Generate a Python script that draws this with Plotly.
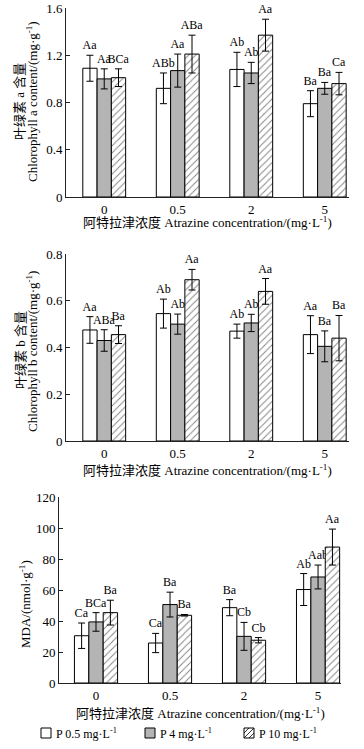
import plotly.graph_objects as go

# ---------------- data ----------------
categories = ["0", "0.5", "2", "5"]
series_names = ["P 0.5 mg·L<sup>-1</sup>", "P 4 mg·L<sup>-1</sup>", "P 10 mg·L<sup>-1</sup>"]

chla_p05 = [1.09, 0.92, 1.08, 0.79]
chla_p05_err = [0.11, 0.13, 0.145, 0.11]
chla_p4 = [1.00, 1.07, 1.05, 0.92]
chla_p4_err = [0.085, 0.14, 0.09, 0.05]
chla_p10 = [1.01, 1.21, 1.37, 0.96]
chla_p10_err = [0.075, 0.16, 0.135, 0.095]
chla_p05_lab = ["Aa", "ABb", "Ab", "Ba"]
chla_p4_lab = ["Aa", "Aa", "Ab", "Ba"]
chla_p10_lab = ["BCa", "ABa", "Aa", "Ca"]

chlb_p05 = [0.475, 0.545, 0.47, 0.455]
chlb_p05_err = [0.057, 0.062, 0.03, 0.081]
chlb_p4 = [0.43, 0.50, 0.505, 0.405]
chlb_p4_err = [0.046, 0.043, 0.037, 0.066]
chlb_p10 = [0.455, 0.69, 0.64, 0.44]
chlb_p10_err = [0.038, 0.044, 0.055, 0.097]
chlb_p05_lab = ["Aa", "Ab", "Ab", "Aa"]
chlb_p4_lab = ["ABa", "Ab", "Ab", "Ba"]
chlb_p10_lab = ["Ba", "Aa", "Aa", "Ba"]

mda_p05 = [30.5, 25.8, 48.6, 60.3]
mda_p05_err = [8.2, 6.2, 5.2, 10.3]
mda_p4 = [39.4, 50.6, 30.1, 68.4]
mda_p4_err = [6.0, 8.0, 9.0, 7.7]
mda_p10 = [45.4, 43.7, 27.6, 87.7]
mda_p10_err = [8.0, 0.5, 1.7, 11.6]
mda_p05_lab = ["Ca", "Ca", "Ba", "Ab"]
mda_p4_lab = ["BCa", "Ba", "Cb", "Aab"]
mda_p10_lab = ["Ba", "Ba", "Cb", "Aa"]

chla_ticks = [0, 0.4, 0.8, 1.2, 1.6]
chla_ticktext = ["0", "0.4", "0.8", "1.2", "1.6"]
chlb_ticks = [0, 0.2, 0.4, 0.6, 0.8]
chlb_ticktext = ["0", "0.2", "0.4", "0.6", "0.8"]
mda_ticks = [0, 20, 40, 60, 80, 100, 120]
mda_ticktext = ["0", "20", "40", "60", "80", "100", "120"]

# ---------------- style ----------------
W, H = 364, 749
FONT = "Liberation Serif, Times New Roman, Noto Sans CJK SC, serif"
GRAY = "#b4b4b4"
AX = "#222222"
fills = [
    dict(color="white"),
    dict(color=GRAY),
    dict(color="white", pattern=dict(shape="/", fgcolor="black", bgcolor="white", size=5, solidity=0.18)),
]

panels = [
    dict(vals=[chla_p05, chla_p4, chla_p10], errs=[chla_p05_err, chla_p4_err, chla_p10_err],
         labs=[chla_p05_lab, chla_p4_lab, chla_p10_lab], ticks=chla_ticks, ticktext=chla_ticktext,
         yr=[0, 1.6], px=(66, 349), py=(8, 197), xr=[-0.52, 3.33]),
    dict(vals=[chlb_p05, chlb_p4, chlb_p10], errs=[chlb_p05_err, chlb_p4_err, chlb_p10_err],
         labs=[chlb_p05_lab, chlb_p4_lab, chlb_p10_lab], ticks=chlb_ticks, ticktext=chlb_ticktext,
         yr=[0, 0.8], px=(66, 349), py=(254, 441), xr=[-0.52, 3.33]),
    dict(vals=[mda_p05, mda_p4, mda_p10], errs=[mda_p05_err, mda_p4_err, mda_p10_err],
         labs=[mda_p05_lab, mda_p4_lab, mda_p10_lab], ticks=mda_ticks, ticktext=mda_ticktext,
         yr=[0, 120], px=(59, 341), py=(497, 683), xr=[-0.50, 3.31]),
]

fig = go.Figure()
layout = dict()
for p_i, p in enumerate(panels):
    sfx = "" if p_i == 0 else str(p_i + 1)
    xa, ya = "x" + sfx, "y" + sfx
    for s_i in range(3):
        fig.add_trace(go.Bar(
            x=categories, y=p["vals"][s_i], xaxis=xa, yaxis=ya,
            name=series_names[s_i], showlegend=False,
            offsetgroup=str(s_i),
            marker=dict(**fills[s_i], line=dict(color="black", width=1)),
            error_y=dict(type="data", array=p["errs"][s_i], color="black", thickness=1, width=3.5),
            hoverinfo="skip",
        ))
        tops = [v + e for v, e in zip(p["vals"][s_i], p["errs"][s_i])]
        fig.add_trace(go.Bar(
            x=categories, y=tops, xaxis=xa, yaxis=ya, showlegend=False,
            offsetgroup=str(s_i), marker=dict(color="rgba(0,0,0,0)", line=dict(width=0)),
            text=p["labs"][s_i], textposition="outside", constraintext="none",
            textfont=dict(family=FONT, size=12, color="black"), cliponaxis=False,
            hoverinfo="skip",
        ))
    x0, x1 = p["px"]
    y0, y1 = p["py"]
    layout["xaxis" + sfx] = dict(
        domain=[x0 / W, x1 / W], anchor=ya, type="category", range=p["xr"],
        showline=True, linecolor=AX, linewidth=1, ticks="", showgrid=False, zeroline=False,
        tickfont=dict(family=FONT, size=13, color="black"), automargin=False,
    )
    layout["yaxis" + sfx] = dict(
        domain=[1 - y1 / H, 1 - y0 / H], anchor=xa, range=p["yr"],
        tickvals=p["ticks"], ticktext=p["ticktext"],
        showline=True, linecolor=AX, linewidth=1, ticks="inside", ticklen=4, tickwidth=1,
        tickcolor=AX, showgrid=False, zeroline=False, automargin=False,
        tickfont=dict(family=FONT, size=13, color="black"),
    )

ann = []
shapes = []
xtitle = "阿特拉津浓度 Atrazine concentration/(mg·L<sup>-1</sup>)"
for cx, cy in [(207, 222), (207, 470), (200, 713)]:
    ann.append(dict(text=xtitle, x=cx / W, y=1 - cy / H, xref="paper", yref="paper",
                    showarrow=False, xanchor="center", yanchor="middle",
                    font=dict(family=FONT, size=13, color="black")))
ytitles = [
    ("叶绿素 a 含量", 20, 102),
    ("Chlorophyll a content/(mg·g<sup>-1</sup>)", 32, 102),
    ("叶绿素 b 含量", 20, 350),
    ("Chlorophyll b content/(mg·g<sup>-1</sup>)", 32, 352),
    ("MDA/(nmol·g<sup>-1</sup>)", 25, 604),
]
for t, cx, cy in ytitles:
    ann.append(dict(text=t, x=cx / W, y=1 - cy / H, xref="paper", yref="paper",
                    showarrow=False, xanchor="center", yanchor="middle", textangle=-90,
                    font=dict(family=FONT, size=13, color="black")))

# manual legend (symbol squares + labels)
leg_y = 733
leg_x = [41, 145, 244]
sq = 10
for s_i, lx in enumerate(leg_x):
    x0p, x1p = lx / W, (lx + sq) / W
    y0p, y1p = 1 - (leg_y + sq / 2) / H, 1 - (leg_y - sq / 2) / H
    fillc = GRAY if s_i == 1 else "white"
    shapes.append(dict(type="rect", xref="paper", yref="paper", x0=x0p, x1=x1p, y0=y0p, y1=y1p,
                       fillcolor=fillc, line=dict(color="black", width=1)))
    ann.append(dict(text=series_names[s_i], x=(lx + sq + 3) / W, y=1 - leg_y / H, xref="paper", yref="paper",
                    showarrow=False, xanchor="left", yanchor="middle",
                    font=dict(family=FONT, size=12, color="black")))

# hatch lines for the third legend square (slope '/')
lx = leg_x[2]
bottom = leg_y + sq / 2
for off in [-5, 0, 5]:
    xa0, ya0 = lx + off, bottom
    xa1, ya1 = lx + sq + off, bottom - sq
    if xa0 < lx:
        ya0 = ya0 - (lx - xa0); xa0 = lx
    if xa1 > lx + sq:
        ya1 = ya1 + (xa1 - (lx + sq)); xa1 = lx + sq
    shapes.append(dict(type="line", xref="paper", yref="paper", x0=xa0 / W, y0=1 - ya0 / H,
                       x1=xa1 / W, y1=1 - ya1 / H, line=dict(color="black", width=0.8)))

fig.update_layout(
    **layout,
    annotations=ann,
    shapes=shapes,
    width=W, height=H,
    margin=dict(l=0, r=0, t=0, b=0, autoexpand=False),
    paper_bgcolor="white", plot_bgcolor="white",
    barmode="group", bargap=0.417, bargroupgap=0,
    showlegend=False,
    font=dict(family=FONT, size=12, color="black"),
)

fig.write_html("out.html", config={"displayModeBar": False},
               post_script="document.body.style.margin='0';document.body.style.overflow='hidden';")
